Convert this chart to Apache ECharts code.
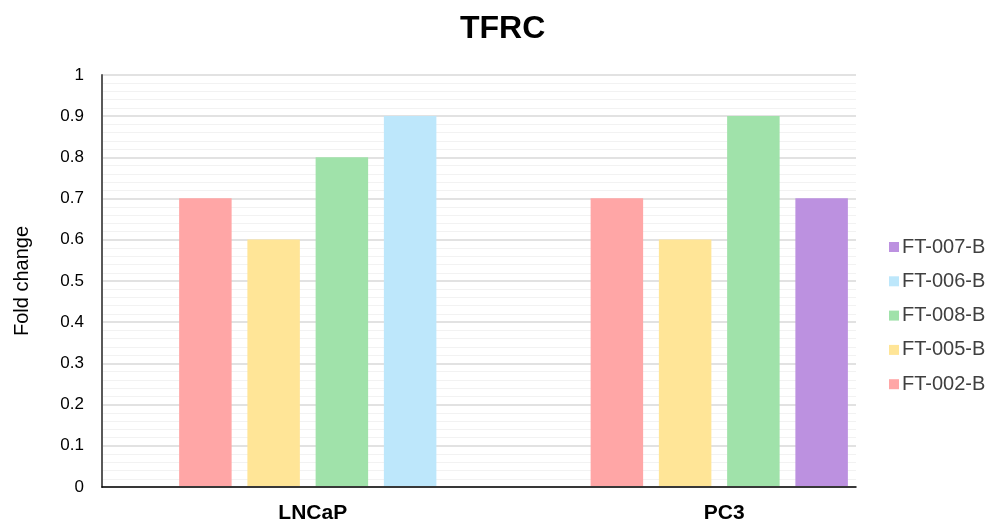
<!DOCTYPE html>
<html>
<head>
<meta charset="utf-8">
<script src="https://cdn.jsdelivr.net/npm/echarts@6/dist/echarts.min.js"></script>
<style>html,body{margin:0;padding:0;background:#fff}#c{width:986px;height:524px}</style>
</head>
<body>
<div id="c"></div>
<script>
var categories = ['LNCaP', 'PC3'];
var seriesNames = ['FT-002-B', 'FT-005-B', 'FT-008-B', 'FT-006-B', 'FT-007-B'];
var ft002 = [0.7, 0.7];
var ft005 = [0.6, 0.6];
var ft008 = [0.8, 0.9];
var ft006 = [0.9, null];
var ft007 = [null, 0.7];
var yTicks = [0, 0.1, 0.2, 0.3, 0.4, 0.5, 0.6, 0.7, 0.8, 0.9, 1];
var colors = ['#FFA6A6', '#FFE597', '#A0E2AA', '#BDE7FB', '#BC91E0'];

var font = '"Liberation Sans", Arial, sans-serif';
var values = [ft002, ft005, ft008, ft006, ft007];
var stacks = ['a', 'b', 'c', 'd', 'd'];

var series = seriesNames.map(function (n, i) {
  return {
    name: n, type: 'bar', xAxisIndex: 1, yAxisIndex: 1,
    stack: stacks[i],
    barWidth: 52.5, barGap: '30%',
    itemStyle: { color: colors[i] },
    data: values[i]
  };
});

var chart = echarts.init(document.getElementById('c'));
chart.setOption({
  animation: false,
  textStyle: { fontFamily: font },
  title: {
    text: 'TFRC', left: 455, top: 8,
    textStyle: { fontFamily: font, fontSize: 32, fontWeight: 'bold', color: '#000' }
  },
  legend: {
    orient: 'vertical', left: 889, top: 237, padding: 0,
    itemWidth: 10, itemHeight: 10, itemGap: 14.3,
    icon: 'rect',
    data: ['FT-007-B', 'FT-006-B', 'FT-008-B', 'FT-005-B', 'FT-002-B'],
    textStyle: { fontFamily: font, fontSize: 20, color: '#404040', lineHeight: 20, padding: [0, 0, 0, -2] }
  },
  grid: [
    { left: 102, right: 130, top: 75, bottom: 37 },
    { left: 102, right: 61, top: 75, bottom: 37 }
  ],
  xAxis: [
    {
      type: 'category', gridIndex: 0, data: categories,
      axisLine: { show: true, lineStyle: { color: '#000', width: 1.5 } },
      axisTick: { show: false }, axisLabel: { show: false }, splitLine: { show: false }
    },
    {
      type: 'category', gridIndex: 1, data: categories,
      axisLine: { show: false }, axisTick: { show: false },
      axisLabel: { margin: 17, fontSize: 21, fontWeight: 'bold', color: '#000', fontFamily: font, padding: [0, 0, 0, 10] }
    }
  ],
  yAxis: [
    {
      type: 'value', gridIndex: 0, min: 0, max: 1, interval: 0.1,
      name: 'Fold change', nameLocation: 'middle', nameGap: 70, nameRotate: 90,
      nameTextStyle: { fontSize: 20, color: '#000', fontFamily: font },
      axisLine: { show: true, lineStyle: { color: '#595959', width: 2 } },
      axisTick: { show: false },
      axisLabel: {
        margin: 18, fontSize: 17, color: '#000', fontFamily: font,
        formatter: function (v) {
          for (var i = 0; i < yTicks.length; i++) if (Math.abs(yTicks[i] - v) < 1e-9) return String(yTicks[i]);
          return '';
        }
      },
      splitLine: { show: true, lineStyle: { color: '#D9D9D9', width: 1.5 } },
      minorTick: { show: false, splitNumber: 5 },
      minorSplitLine: { show: true, lineStyle: { color: '#F2F2F2', width: 1.2 } }
    },
    {
      type: 'value', gridIndex: 1, min: 0, max: 1, interval: 0.1, show: false,
      splitLine: { show: false }
    }
  ],
  series: series
});
</script>
</body>
</html>
